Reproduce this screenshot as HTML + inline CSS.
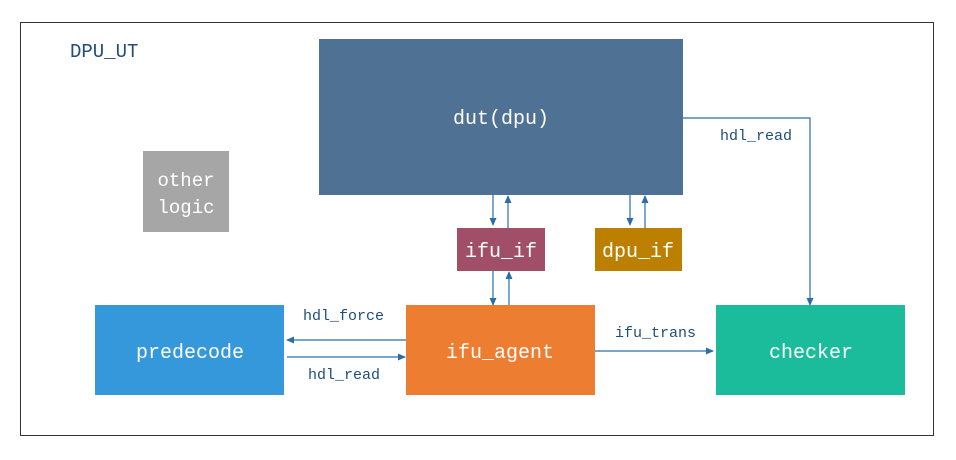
<!DOCTYPE html>
<html><head><style>
body{margin:0;background:#fff;width:956px;height:455px;overflow:hidden}
text{font-family:"Liberation Mono","Noto Serif CJK SC",monospace}
</style></head><body>
<svg width="956" height="455" xmlns="http://www.w3.org/2000/svg">
<defs><marker id="a" markerWidth="8" markerHeight="8" refX="7" refY="4" orient="auto" markerUnits="userSpaceOnUse"><path d="M0,0.5 L8,4 L0,7.5z" fill="#2e6ea3"/></marker></defs>
<rect x="20.5" y="22.5" width="913" height="413" fill="#fff" stroke="#333"/>
<text x="70" y="57" font-size="19" fill="#1f4e79">DPU_UT</text>
<rect x="319" y="39" width="364" height="156" fill="#4f7194"/>
<text x="501" y="124" font-size="20" fill="#fff" text-anchor="middle">dut(dpu)</text>
<rect x="143" y="151" width="86" height="81" fill="#a6a6a6"/>
<text x="186" y="186" font-size="19" fill="#fff" text-anchor="middle">other</text>
<text x="186" y="213" font-size="19" fill="#fff" text-anchor="middle">logic</text>
<rect x="457" y="228" width="88" height="43" fill="#a14f68"/>
<text x="501" y="257" font-size="20" fill="#fff" text-anchor="middle">ifu_if</text>
<rect x="595" y="228" width="87" height="43" fill="#bd7f00"/>
<text x="638" y="257" font-size="20" fill="#fff" text-anchor="middle">dpu_if</text>
<rect x="95" y="305" width="189" height="90" fill="#3498db"/>
<text x="190" y="358" font-size="20" fill="#fff" text-anchor="middle">predecode</text>
<rect x="406" y="305" width="189" height="90" fill="#ed7d31"/>
<text x="500" y="358" font-size="20" fill="#fff" text-anchor="middle">ifu_agent</text>
<rect x="716" y="305" width="189" height="90" fill="#1abc9c"/>
<text x="811" y="358" font-size="20" fill="#fff" text-anchor="middle">checker</text>
<g stroke="#2e6ea3" stroke-width="1.2" fill="none" marker-end="url(#a)">
<line x1="493" y1="195" x2="493" y2="225"/>
<line x1="508" y1="228" x2="508" y2="196"/>
<line x1="630" y1="195" x2="630" y2="225"/>
<line x1="645" y1="228" x2="645" y2="196"/>
<line x1="493" y1="271" x2="493" y2="305"/>
<line x1="509" y1="305" x2="509" y2="272"/>
<line x1="406" y1="340" x2="287" y2="340"/>
<line x1="287" y1="357" x2="405" y2="357"/>
<line x1="595" y1="351" x2="713" y2="351"/>
<polyline points="683,118 810,118 810,305"/>
</g>
<g font-size="15" fill="#1f4e79">
<text x="303" y="320">hdl_force</text>
<text x="308" y="379">hdl_read</text>
<text x="615" y="337">ifu_trans</text>
<text x="720" y="140">hdl_read</text>
</g>
</svg>
</body></html>
